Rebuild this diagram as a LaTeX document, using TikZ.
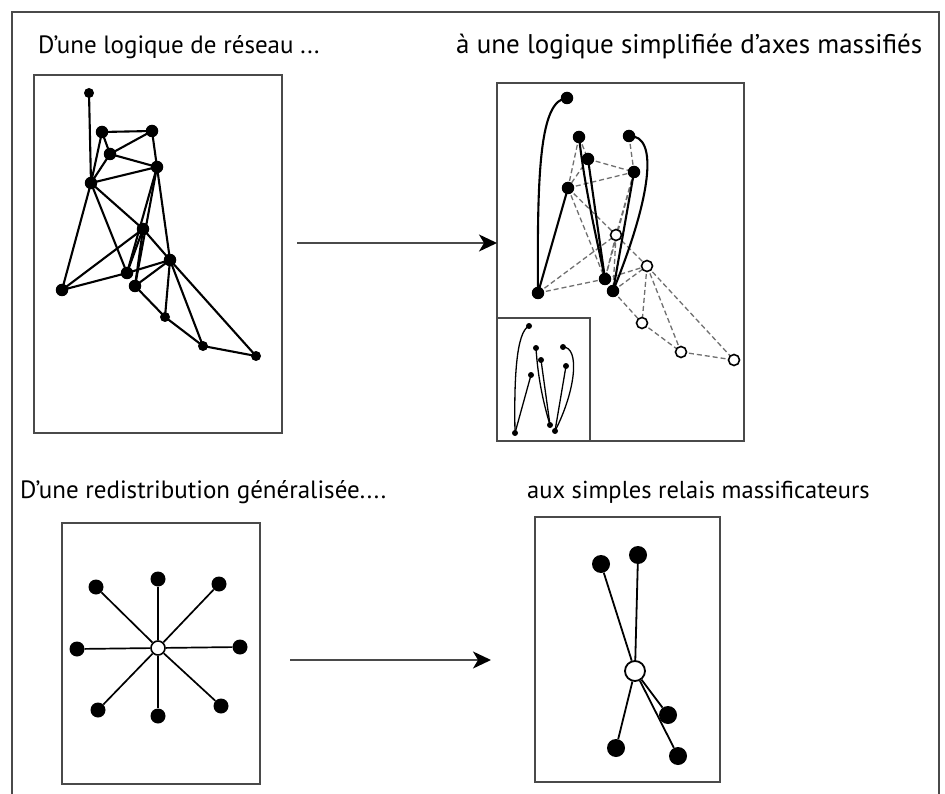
\documentclass[tikz,border=0pt]{standalone}
\usepackage{fontspec}
\setmainfont{PT Sans}
\usetikzlibrary{arrows.meta}
\definecolor{framegray}{HTML}{4A4A4A}
\definecolor{dashgray}{HTML}{707070}
\begin{document}
\begin{tikzpicture}[x=1pt,y=-1pt,
  box/.style={draw=framegray,line width=1.8pt},
  dot/.style={circle,fill=black,inner sep=0pt,minimum size=12.5pt},
  sdot/.style={circle,fill=black,inner sep=0pt,minimum size=10pt},
  tdot/.style={circle,fill=black,inner sep=0pt,minimum size=6pt},
  odot/.style={circle,draw=black,fill=white,line width=1.6pt,inner sep=0pt,minimum size=11pt},
  bdot/.style={circle,fill=black,inner sep=0pt,minimum size=18pt},
  bodot/.style={circle,draw=black,fill=white,line width=1.8pt,inner sep=0pt,minimum size=20pt},
  edge/.style={black,line width=2.1pt},
  dedge/.style={dashgray,line width=1.3pt,dash pattern=on 5pt off 3pt},
  tedge/.style={black,line width=1.3pt},
  bigarrow/.style={draw=framegray,line width=1.8pt,-{Stealth[length=18pt,width=17pt,inset=5pt,color=black]}},
  lbl/.style={anchor=west,font=\fontsize{25}{28}\selectfont,inner sep=0pt}]
\useasboundingbox (0,0) rectangle (945,794);
\fill[white] (0,0) rectangle (945,794);
% outer frame
\draw[draw=framegray,line width=2.4pt] (12,800) -- (12,12) -- (939,12) -- (939,800);
% titles
\node[lbl] (t1) at (38,47) {D'une logique de réseau ...};
\node[lbl,font=\fontsize{27}{30}\selectfont] (t2) at (456,47) {à une logique simplifiée d'axes massifiés};
\node[lbl] (t3) at (20,492) {D'une redistribution généralisée....};
\node[lbl,font=\fontsize{24.5}{28}\selectfont] (t4) at (527,492) {aux simples relais massificateurs};
% boxes
\draw[box] (34,75) rectangle (282,433);
\draw[box] (497,83) rectangle (744,441);
\draw[box] (497,318) rectangle (590,441);
\draw[box] (62,523) rectangle (260,784);
\draw[box] (535,517) rectangle (720,782);
% arrows
\coordinate (a1s) at (297,243);
\coordinate (a1e) at (497,243);
\coordinate (a2s) at (290,660);
\coordinate (a2e) at (491,660);
\draw[bigarrow] (a1s) -- (a1e);
\draw[bigarrow] (a2s) -- (a2e);
% ---------- top-left network
\coordinate (n1) at (89,93);
\coordinate (n2) at (102,132);
\coordinate (n3) at (152,131);
\coordinate (n4) at (110,154);
\coordinate (n5) at (157,167);
\coordinate (n6) at (91,183);
\coordinate (n7) at (143,229);
\coordinate (n8) at (170,260);
\coordinate (n9) at (127,273);
\coordinate (n10) at (135,286);
\coordinate (n11) at (62,290);
\coordinate (n12) at (165,317);
\coordinate (n13) at (203,346);
\coordinate (n14) at (256,356);
\foreach \a/\b in {1/6,2/3,2/4,2/6,3/4,3/5,4/5,4/6,5/6,6/7,6/9,6/11,5/9,5/10,5/8,7/8,7/11,7/9,7/10,8/9,8/10,8/12,8/13,8/14,10/12,12/13,13/14,9/11}
  \draw[edge] (n\a) -- (n\b);
\node[sdot] (m1) at (n1) {};
\foreach \n in {2,...,11} \node[dot] (m\n) at (n\n) {};
\foreach \n in {12,13,14} \node[sdot] (m\n) at (n\n) {};
% ---------- top-right network
\coordinate (A) at (567,98);
\coordinate (B) at (579,137);
\coordinate (C) at (629,136);
\coordinate (D) at (588,159);
\coordinate (E) at (634,172);
\coordinate (F) at (568,188);
\coordinate (G) at (538,293);
\coordinate (H) at (605,279);
\coordinate (I) at (613,291);
\coordinate (O1) at (616,235);
\coordinate (O2) at (647,266);
\coordinate (O3) at (642,323);
\coordinate (O4) at (681,352);
\coordinate (O5) at (734,360);
\foreach \a/\b in {B/D,B/F,D/E,D/F,F/E,C/E,F/O1,F/H,G/O1,G/H,E/O1,E/H,O1/O2,O1/H,O1/I,H/O2,I/O2,I/O3,O2/O3,O2/O4,O2/O5,O3/O4,O4/O5}
  \draw[dedge] (\a) -- (\b);
\draw[edge] (A) .. controls (540,100) and (537,170) .. (G);
\draw[edge] (F) -- (G);
\draw[edge] (B) .. controls (585,190) and (597,240) .. (H);
\draw[edge] (D) -- (H);
\draw[edge] (E) -- (I);
\draw[edge] (C) .. controls (660,135) and (650,200) .. (I);
\node[dot] (rA) at (A) {};
\node[dot] (rB) at (B) {};
\node[dot] (rC) at (C) {};
\node[dot] (rD) at (D) {};
\node[dot] (rE) at (E) {};
\node[dot] (rF) at (F) {};
\node[dot] (rG) at (G) {};
\node[dot] (rH) at (H) {};
\node[dot] (rI) at (I) {};
\node[odot] (rO1) at (O1) {};
\node[odot] (rO2) at (O2) {};
\node[odot] (rO3) at (O3) {};
\node[odot] (rO4) at (O4) {};
\node[odot] (rO5) at (O5) {};
% ---------- inset
\node[tdot] (ia) at (529,326) {};
\node[tdot] (ib) at (536,348) {};
\node[tdot] (ic) at (541,360) {};
\node[tdot] (id) at (563,347) {};
\node[tdot] (ie) at (566,366) {};
\node[tdot] (if) at (531,375) {};
\node[tdot] (ig) at (515,433) {};
\node[tdot] (ih) at (550,425) {};
\node[tdot] (ii) at (555,431) {};
\draw[tedge] (ia.center) .. controls (516,332) and (514,380) .. (ig.center);
\draw[tedge] (if.center) -- (ig.center);
\draw[tedge] (ib.center) .. controls (538,380) and (544,405) .. (ih.center);
\draw[tedge] (ic.center) -- (ih.center);
\draw[tedge] (ie.center) -- (ii.center);
\draw[tedge] (id.center) .. controls (580,347) and (576,390) .. (ii.center);
% ---------- bottom-left star
\node[odot,minimum size=14pt] (sc) at (158,648) {};
\foreach \n/\x/\y in {s1/158/579,s2/219/584,s3/240/647,s4/221/706,s5/158/716,s6/98/710,s7/77/649,s8/96/587}{
  \node[circle,fill=black,inner sep=0pt,minimum size=15pt] (\n) at (\x,\y) {};
  \draw[edge,line width=1.7pt] (sc) -- (\n);
}
% ---------- bottom-right
\node[bodot] (bc) at (635,671) {};
\node[bdot] (b1) at (601,564) {};
\node[bdot] (b2) at (638,555) {};
\node[bdot] (b3) at (668,715) {};
\node[bdot] (b4) at (616,748) {};
\node[bdot] (b5) at (678,756) {};
\foreach \n in {b1,b2,b3,b4,b5} \draw[edge,line width=1.8pt] (bc) -- (\n);
\end{tikzpicture}
\end{document}
